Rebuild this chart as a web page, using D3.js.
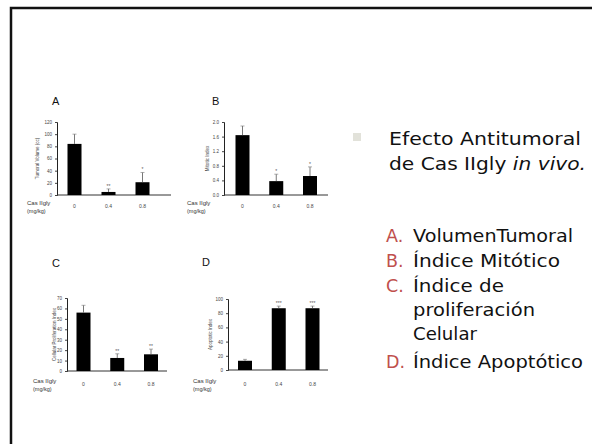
<!DOCTYPE html>
<html><head><meta charset="utf-8">
<script src="https://cdn.jsdelivr.net/npm/d3@7"></script>
<style>body{margin:0;background:#fff}svg{display:block}</style>
</head><body><svg id="c" width="592" height="444"></svg>
<script>
const doses = ["0", "0.4", "0.8"];
const tumorVolume = [84, 5, 21];
const tumorVolumeErr = [16, 5, 16];
const tumorVolumeStars = ["", "**", "*"];
const tumorVolumeTicks = [0, 20, 40, 60, 80, 100, 120];
const mitoticIndex = [1.64, 0.38, 0.52];
const mitoticIndexErr = [0.25, 0.19, 0.25];
const mitoticIndexStars = ["", "*", "*"];
const mitoticIndexTicks = [0, 0.4, 0.8, 1.2, 1.6, 2.0];
const proliferation = [56, 12.5, 16];
const proliferationErr = [7, 4, 5];
const proliferationStars = ["", "**", "**"];
const proliferationTicks = [0, 10, 20, 30, 40, 50, 60, 70];
const apoptotic = [13, 87, 87];
const apoptoticErr = [2, 3, 3];
const apoptoticStars = ["", "***", "***"];
const apoptoticTicks = [0, 20, 40, 60, 80, 100];
const panelLetters = ["A", "B", "C", "D"];
const yTitles = ["Tumoral Volume (cc)", "Mitotic Index", "Cellular Proliferation Index", "Apoptotic Index"];
const xTitle = ["Cas IIgly", "(mg/kg)"];
const bulletLines = ["Efecto Antitumoral", "de Cas IIgly ", "in vivo."];
const listLetters = ["A.", "B.", "C.", "", "", "D."];
const listItems = ["VolumenTumoral", "Índice Mitótico", "Índice de", "proliferación", "Celular", "Índice Apoptótico"];

const svg = d3.select("#c");
svg.append("path").attr("d", "M11,444 V8 H592").attr("fill", "none").attr("stroke", "#111").attr("stroke-width", 2.5);

const panels = [
  {vals: tumorVolume, err: tumorVolumeErr, stars: tumorVolumeStars, ticks: tumorVolumeTicks, fmt: d3.format("d"),
   ax: 57, axEnd: 171, c0: 74.5, c2: 142.5, y0: 195, y1: 122, letter: [52, 105], titleX: 39, xlabY: 208, casX: 27},
  {vals: mitoticIndex, err: mitoticIndexErr, stars: mitoticIndexStars, ticks: mitoticIndexTicks, fmt: d3.format(".1f"),
   ax: 224, axEnd: 328, c0: 242.5, c2: 310, y0: 195, y1: 122, letter: [212, 105], titleX: 209, xlabY: 208, casX: 187},
  {vals: proliferation, err: proliferationErr, stars: proliferationStars, ticks: proliferationTicks, fmt: d3.format("d"),
   ax: 67, axEnd: 167, c0: 83.5, c2: 151, y0: 371, y1: 298, letter: [52, 267], titleX: 56, xlabY: 386, casX: 33},
  {vals: apoptotic, err: apoptoticErr, stars: apoptoticStars, ticks: apoptoticTicks, fmt: d3.format("d"),
   ax: 228, axEnd: 328, c0: 245, c2: 312.5, y0: 370, y1: 299, letter: [202, 266], titleX: 212, xlabY: 386, casX: 193}
];

panels.forEach((p, i) => {
  const g = svg.append("g");
  const dom = [0, p.ticks[p.ticks.length - 1]];
  const y = d3.scaleLinear().domain(dom).range([p.y0, p.y1]);
  const x = d3.scalePoint().domain(doses).range([p.c0, p.c2]);
  const bw = 14;
  g.append("text").attr("x", p.letter[0]).attr("y", p.letter[1]).text(panelLetters[i])
    .attr("font-family", "Liberation Sans, Arial, sans-serif").attr("font-size", 11).attr("fill", "#111");
  const yAxis = d3.axisLeft(y).tickValues(p.ticks).tickFormat(p.fmt).tickSize(2).tickPadding(3);
  const ga = g.append("g").attr("transform", `translate(${p.ax},0)`).call(yAxis);
  ga.select(".domain").attr("stroke", "#222");
  ga.selectAll(".tick line").attr("stroke", "#444");
  ga.selectAll("text").attr("font-size", 4.5).attr("fill", "#444").attr("font-family", "Liberation Sans, Arial, sans-serif");
  g.append("line").attr("x1", p.ax).attr("x2", p.axEnd).attr("y1", p.y0).attr("y2", p.y0).attr("stroke", "#333").attr("stroke-width", 1);
  g.selectAll("rect.bar").data(p.vals).join("rect").attr("class", "bar")
    .attr("x", (d, j) => x(doses[j]) - bw / 2).attr("width", bw)
    .attr("y", d => y(d)).attr("height", d => p.y0 - y(d)).attr("fill", "#000");
  g.selectAll("line.err").data(p.vals).join("line").attr("class", "err")
    .attr("x1", (d, j) => x(doses[j])).attr("x2", (d, j) => x(doses[j]))
    .attr("y1", d => y(d)).attr("y2", (d, j) => y(d + p.err[j])).attr("stroke", "#555").attr("stroke-width", 0.8);
  g.selectAll("line.cap").data(p.vals).join("line").attr("class", "cap")
    .attr("x1", (d, j) => x(doses[j]) - 2).attr("x2", (d, j) => x(doses[j]) + 2)
    .attr("y1", (d, j) => y(d + p.err[j])).attr("y2", (d, j) => y(d + p.err[j])).attr("stroke", "#777").attr("stroke-width", 0.6);
  g.selectAll("text.star").data(p.vals).join("text").attr("class", "star")
    .attr("x", (d, j) => x(doses[j])).attr("y", (d, j) => y(d + p.err[j]) - 1)
    .attr("text-anchor", "middle").attr("font-size", 5).attr("fill", "#555")
    .attr("font-family", "Liberation Sans, Arial, sans-serif").text((d, j) => p.stars[j]);
  g.selectAll("text.xl").data(doses).join("text").attr("class", "xl")
    .attr("x", d => x(d)).attr("y", p.xlabY).attr("text-anchor", "middle")
    .attr("font-size", 5).attr("fill", "#444").attr("font-family", "Liberation Sans, Arial, sans-serif").text(d => d);
  g.append("text").attr("x", p.casX).attr("y", p.xlabY - 3).text(xTitle[0])
    .attr("font-size", 6).attr("fill", "#333").attr("font-family", "Liberation Sans, Arial, sans-serif");
  g.append("text").attr("x", p.casX).attr("y", p.xlabY + 4.5).text(xTitle[1])
    .attr("font-size", 5.5).attr("fill", "#333").attr("font-family", "Liberation Sans, Arial, sans-serif");
  g.append("text").attr("transform", `translate(${p.titleX},${(p.y0 + p.y1) / 2}) rotate(-90)`)
    .attr("text-anchor", "middle").attr("font-size", 4.5).attr("fill", "#444")
    .attr("font-family", "Liberation Sans, Arial, sans-serif").text(yTitles[i]);
});

const font = "'Comic Sans MS', 'DejaVu Sans', sans-serif";
svg.append("rect").attr("x", 353).attr("y", 133).attr("width", 8).attr("height", 8).attr("fill", "#e2e2da");
svg.append("text").attr("x", 389).attr("y", 145).attr("font-family", font).attr("font-size", 17).attr("fill", "#111")
  .attr("textLength", 192).attr("lengthAdjust", "spacingAndGlyphs").text(bulletLines[0]);
const t2 = svg.append("text").attr("x", 389).attr("y", 170).attr("font-family", font).attr("font-size", 17).attr("fill", "#111")
  .attr("textLength", 197).attr("lengthAdjust", "spacingAndGlyphs");
t2.append("tspan").text(bulletLines[1]);
t2.append("tspan").attr("font-style", "italic").text(bulletLines[2]);

const listY = [242, 267, 292, 316, 340, 368];
const listW = [160, 147, 91, 122, 64, 170];
listItems.forEach((s, i) => {
  if (listLetters[i]) svg.append("text").attr("x", 386).attr("y", listY[i]).attr("font-family", font).attr("font-size", 17.5)
    .attr("fill", "#c0504d").text(listLetters[i]);
  svg.append("text").attr("x", 413).attr("y", listY[i]).attr("font-family", font).attr("font-size", 17.5).attr("fill", "#111")
    .attr("textLength", listW[i]).attr("lengthAdjust", "spacingAndGlyphs").text(s);
});
</script></body></html>
